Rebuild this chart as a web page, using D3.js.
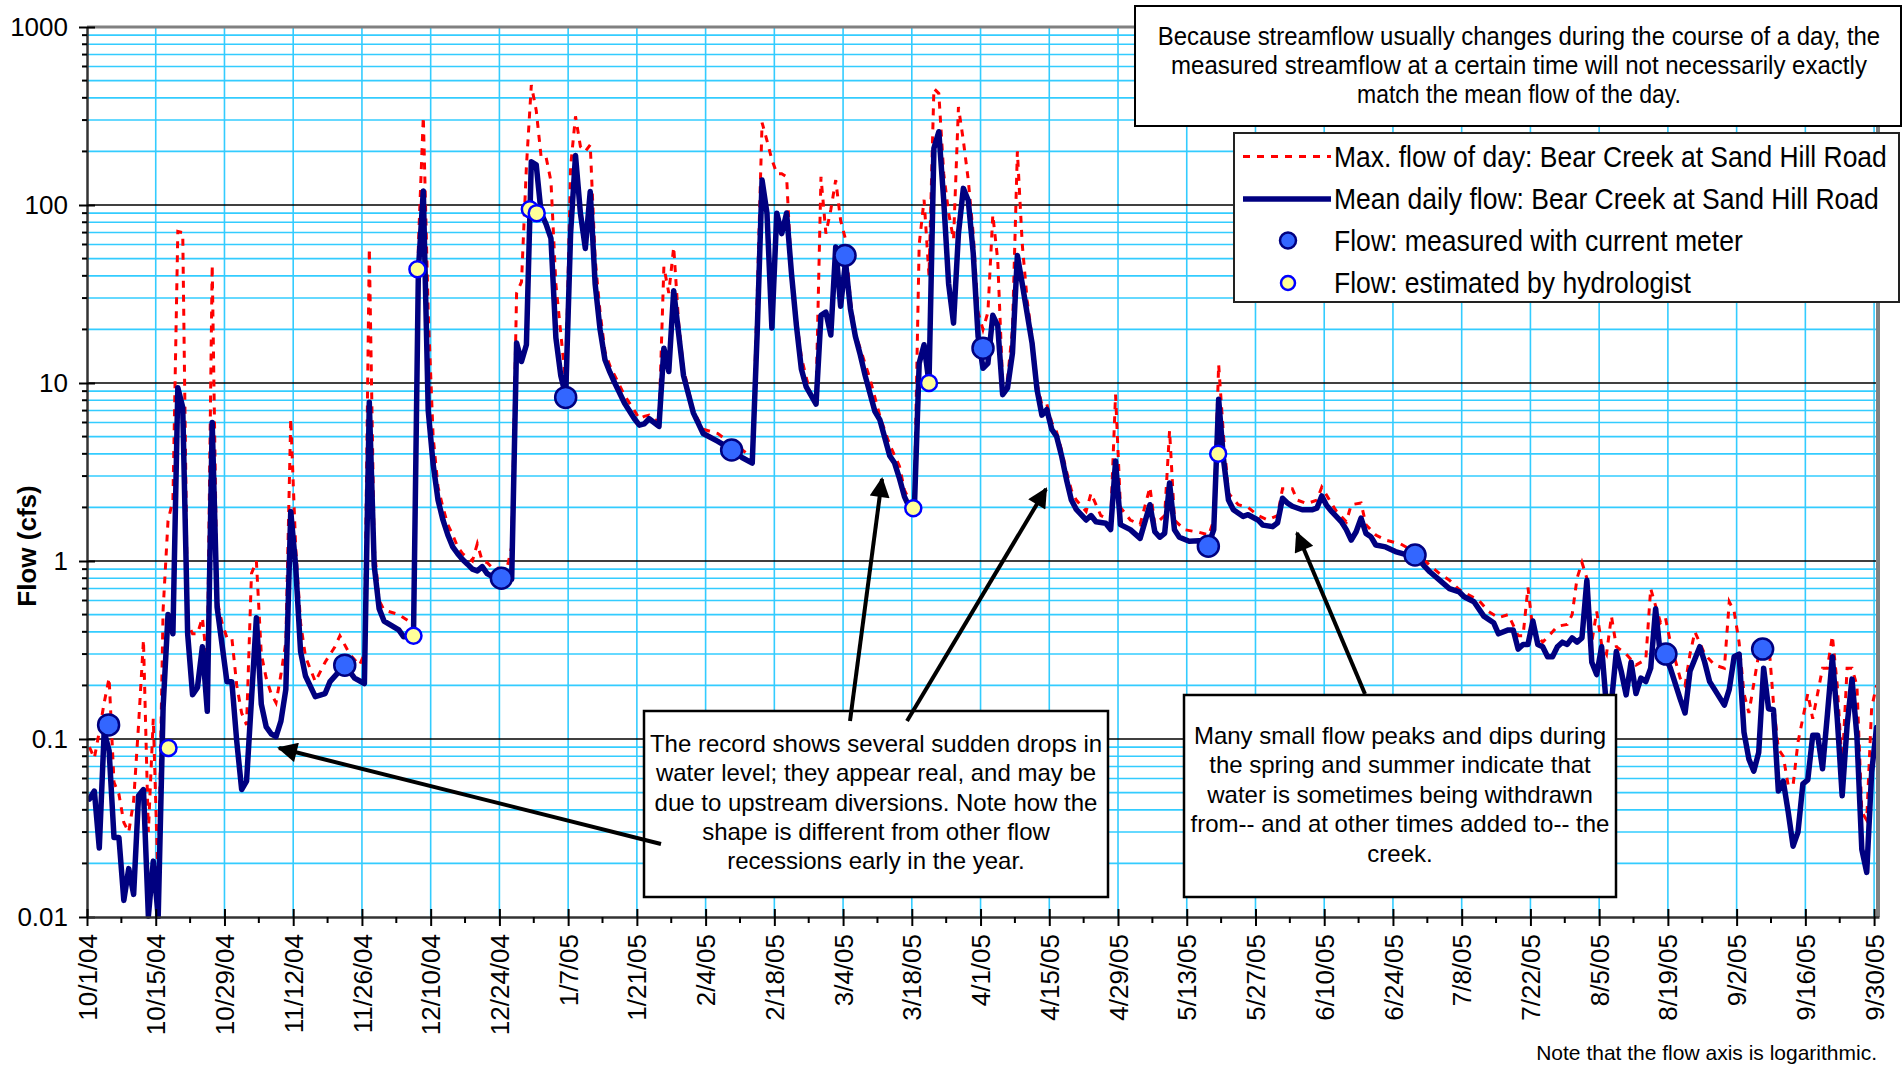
<!DOCTYPE html>
<html><head><meta charset="utf-8">
<script src="https://cdn.jsdelivr.net/npm/d3@7"></script>
<style>
html,body{margin:0;padding:0;background:#fff;}
svg{display:block;}
text{font-family:"Liberation Sans",Arial,Helvetica,sans-serif;fill:#000;}
</style></head><body>
<svg id="chart" width="1902" height="1066"></svg>
<script>
// ---------------- DATA ----------------
const startDateUTC = Date.UTC(2004, 9, 1);   // water year starts 10/1/04
const endDateUTC = Date.UTC(2005, 9, 1);
const tickLabels = ["10/1/04","10/15/04","10/29/04","11/12/04","11/26/04","12/10/04","12/24/04","1/7/05","1/21/05","2/4/05","2/18/05","3/4/05","3/18/05","4/1/05","4/15/05","4/29/05","5/13/05","5/27/05","6/10/05","6/24/05","7/8/05","7/22/05","8/5/05","8/19/05","9/2/05","9/16/05","9/30/05"];
const yTickValues = [0.01, 0.1, 1, 10, 100, 1000];
const yTickLabels = ["0.01", "0.1", "1", "10", "100", "1000"];

// [day since 10/1/04, mean daily flow (cfs)]
const meanDaily = [[0,0.046],[1,0.051],[2,0.0244],[3,0.11],[4,0.086],[5,0.028],[6,0.028],[7,0.0124],[8,0.0187],[9,0.0134],[10,0.048],[11,0.052],[12,0.0101],[13,0.0206],[14,0.0100],[15,0.15],[16,0.5],[17,0.39],[18,9.4],[19,7.3],[20,0.39],[21,0.177],[22,0.195],[23,0.33],[24,0.143],[25,6.0],[26,0.55],[27,0.34],[28,0.21],[29,0.21],[30,0.097],[31,0.052],[32,0.058],[34,0.48],[35,0.157],[36,0.117],[37,0.107],[38,0.103],[39,0.126],[40,0.19],[41,1.9],[42,0.94],[43,0.31],[44,0.226],[46,0.173],[48,0.18],[49,0.21],[52,0.26],[54,0.22],[56,0.205],[57,7.8],[58,0.94],[59,0.54],[60,0.46],[63,0.41],[64,0.375],[66,0.38],[67,43],[68,120],[69,7],[70,3.5],[71,2.2],[72,1.7],[73,1.4],[74,1.2],[75,1.1],[76,1.02],[77,0.96],[78,0.9],[79,0.88],[80,0.93],[81,0.85],[82,0.82],[84,0.78],[86,0.79],[87,16.8],[88,13.2],[89,16.4],[90,175],[91,168],[92,90],[93,78],[94,65],[95,18],[96,11],[97,8.5],[98,69],[99,190],[100,90],[101,57],[102,119],[103,36],[104,20],[105,13.5],[106,11.5],[107,10],[109,7.7],[111,6.3],[112,5.8],[113,5.9],[114,6.3],[116,5.7],[117,15.7],[118,11.6],[119,33],[120,19],[121,11],[123,6.8],[125,5.2],[128,4.7],[131,4.2],[133,3.8],[135,3.55],[136,19],[137,138],[138,90],[139,20.4],[140,90],[141,69],[142,90],[143,41],[144,21],[145,12],[146,9.5],[148,7.6],[149,24],[150,25],[151,18.6],[152,58],[153,27],[154,48],[155,26],[156,18.3],[157,14.4],[158,11],[160,6.9],[161,6.2],[163,3.9],[164,3.55],[165,2.9],[166,2.3],[167,2.0],[168,1.9],[169,12.9],[170,16.4],[171,10],[172,208],[173,258],[174,106],[175,36],[176,21.7],[177,69],[178,124],[179,106],[180,54],[181,18.3],[182,12.1],[183,12.9],[184,24],[185,21],[186,8.6],[187,9.4],[188,14.7],[189,52],[190,36],[191,24.5],[192,16.7],[193,9.2],[194,6.6],[195,7.1],[196,5.5],[197,5.0],[198,3.9],[199,2.87],[200,2.2],[201,1.95],[203,1.7],[204,1.8],[205,1.66],[207,1.63],[208,1.5],[209,3.65],[210,1.6],[212,1.5],[214,1.34],[216,2.07],[217,1.46],[218,1.36],[219,1.43],[220,2.74],[221,1.5],[222,1.36],[224,1.29],[226,1.30],[228,1.25],[229,1.5],[230,8.1],[231,3.7],[232,2.2],[233,1.94],[235,1.78],[236,1.82],[238,1.7],[239,1.59],[241,1.56],[242,1.64],[243,2.25],[244,2.12],[245,2.03],[247,1.94],[249,1.94],[250,1.98],[251,2.32],[252,2.05],[253,1.9],[255,1.66],[256,1.5],[257,1.31],[258,1.46],[259,1.74],[260,1.43],[261,1.37],[262,1.23],[264,1.2],[266,1.13],[268,1.09],[270,1.08],[272,0.93],[273,0.87],[275,0.78],[277,0.7],[279,0.67],[280,0.63],[282,0.59],[284,0.49],[286,0.45],[287,0.39],[289,0.41],[290,0.41],[291,0.32],[292,0.34],[293,0.34],[294,0.46],[295,0.34],[296,0.33],[297,0.29],[298,0.29],[299,0.33],[300,0.35],[301,0.34],[302,0.37],[303,0.35],[304,0.37],[305,0.78],[306,0.27],[307,0.23],[308,0.33],[309,0.15],[310,0.16],[311,0.31],[312,0.24],[313,0.177],[314,0.27],[315,0.18],[316,0.22],[317,0.21],[318,0.25],[319,0.54],[320,0.29],[321,0.29],[322,0.25],[324,0.168],[325,0.14],[326,0.24],[328,0.33],[329,0.27],[330,0.21],[331,0.19],[333,0.155],[334,0.19],[335,0.29],[336,0.30],[337,0.109],[338,0.077],[339,0.066],[340,0.084],[341,0.25],[342,0.148],[343,0.146],[344,0.051],[345,0.058],[346,0.039],[347,0.025],[348,0.030],[349,0.056],[350,0.059],[351,0.105],[352,0.105],[353,0.068],[354,0.138],[355,0.29],[356,0.13],[357,0.048],[358,0.119],[359,0.217],[360,0.104],[361,0.024],[362,0.0178],[363,0.065],[364,0.116]];

// [day since 10/1/04, maximum flow of day (cfs)]
const maxDaily = [[0,0.09],[1,0.078],[2,0.11],[3,0.16],[4,0.22],[5,0.057],[6,0.049],[7,0.034],[8,0.03],[9,0.045],[10,0.12],[11,0.36],[12,0.03],[13,0.13],[14,0.015],[15,0.53],[16,1.68],[17,2.2],[18,71],[19,70],[20,0.45],[21,0.39],[22,0.39],[23,0.48],[24,0.26],[25,46],[26,0.6],[27,0.45],[28,0.37],[29,0.37],[30,0.2],[31,0.14],[32,0.12],[33,0.85],[34,1.0],[35,0.3],[36,0.22],[37,0.18],[38,0.16],[39,0.23],[40,0.35],[41,6.3],[42,1.2],[43,0.45],[44,0.29],[46,0.21],[48,0.27],[50,0.33],[51,0.38],[53,0.3],[55,0.26],[56,0.3],[57,57],[58,1.2],[59,0.6],[60,0.53],[63,0.5],[65,0.46],[66,0.5],[67,60],[68,313],[69,25],[70,5],[71,2.6],[72,2.0],[73,1.6],[74,1.4],[75,1.2],[76,1.1],[78,1.0],[79,1.25],[80,1.0],[81,0.98],[82,0.92],[85,0.9],[86,1.2],[87,32],[88,37],[89,164],[90,472],[91,340],[92,186],[93,186],[94,136],[95,36],[96,19],[97,10],[98,164],[99,315],[100,213],[101,200],[102,218],[103,50],[104,25],[105,15],[106,12.5],[107,11],[109,8.5],[111,7],[112,6.3],[113,6.5],[114,6.6],[116,6],[117,45],[118,32],[119,58],[120,22],[121,12],[123,7],[125,5.5],[128,5.2],[131,4.5],[133,4.2],[135,3.8],[136,30],[137,290],[138,230],[139,180],[140,150],[141,150],[142,144],[143,40],[144,23],[145,14],[146,10.7],[147,8.5],[148,8.5],[149,144],[150,69],[151,94],[152,138],[153,82],[154,64],[155,29],[156,19],[159,10.5],[161,6.5],[163,4.5],[165,3.4],[166,2.5],[167,2.2],[168,2.1],[169,60],[170,107],[171,40],[172,451],[173,423],[174,150],[175,90],[176,64],[177,355],[178,230],[179,138],[180,69],[181,25],[182,20],[183,25],[184,88],[185,49],[186,10],[187,10.5],[188,20],[189,200],[190,60],[191,29],[192,18],[193,10],[194,7.5],[195,7.6],[196,6],[197,5.3],[198,4.2],[199,3.2],[200,2.5],[201,2.2],[203,1.9],[204,2.4],[206,1.8],[208,1.7],[209,8.6],[210,2.0],[212,1.7],[214,1.6],[216,2.6],[217,1.6],[219,1.8],[220,5.4],[221,1.7],[223,1.5],[226,1.45],[228,1.4],[229,1.7],[230,12.7],[231,5],[232,2.4],[234,2.07],[236,2.0],[238,1.8],[240,1.7],[242,1.8],[243,2.55],[245,2.55],[246,2.2],[248,2.1],[250,2.2],[251,2.6],[253,2.1],[254,1.9],[256,1.66],[257,2.07],[259,2.12],[260,1.6],[262,1.4],[264,1.31],[267,1.25],[270,1.12],[272,1.0],[275,0.85],[277,0.78],[279,0.69],[283,0.6],[285,0.52],[287,0.48],[289,0.5],[291,0.38],[292,0.38],[293,0.71],[294,0.41],[296,0.35],[298,0.4],[299,0.43],[301,0.44],[302,0.5],[303,0.8],[304,0.98],[305,0.8],[306,0.35],[307,0.52],[308,0.34],[309,0.3],[310,0.49],[311,0.33],[313,0.3],[315,0.26],[317,0.28],[318,0.7],[319,0.56],[320,0.45],[321,0.48],[322,0.35],[324,0.22],[325,0.2],[326,0.3],[327,0.4],[329,0.3],[331,0.26],[333,0.25],[334,0.59],[335,0.52],[336,0.35],[337,0.18],[338,0.14],[340,0.3],[341,0.3],[342,0.36],[343,0.16],[344,0.088],[345,0.08],[346,0.055],[347,0.055],[348,0.096],[350,0.18],[351,0.13],[353,0.25],[354,0.25],[355,0.38],[356,0.2],[357,0.07],[358,0.25],[359,0.25],[360,0.2],[361,0.039],[362,0.035],[363,0.15],[364,0.2]];

// current-meter measurements [day, flow]
const measured = [[3.9,0.12],[52,0.26],[83.9,0.8],[97,8.3],[130.8,4.2],[153.9,52],[182,15.7],[227.9,1.21],[270,1.08],[321.1,0.30],[340.8,0.32]];
// hydrologist estimates [day, flow]
const estimated = [[16.1,0.089],[66,0.38],[66.8,43.6],[89.7,94.6],[91.1,90],[167.8,1.98],[171,10],[229.9,4.0]];

const yAxisTitle = "Flow (cfs)";
const legendLabels = ["Max. flow of day: Bear Creek at Sand Hill Road","Mean daily flow: Bear Creek at Sand Hill Road","Flow: measured with current meter","Flow: estimated by hydrologist"];
const noteLines = ["Because streamflow usually changes during the course of a day, the","measured streamflow at a certain time will not necessarily exactly","match the mean flow of the day."];
const leftBoxLines = ["The record shows several sudden drops in","water level; they appear real, and may be","due to upstream diversions. Note how the","shape is different from other flow","recessions early in the year."];
const rightBoxLines = ["Many small flow peaks and dips during","the spring and summer indicate that","water is sometimes being withdrawn","from-- and at other times added to-- the","creek."];
const bottomNote = "Note that the flow axis is logarithmic.";

// ---------------- LAYOUT ----------------
const svg = d3.select("#chart");
const P = {left: 87, right: 1879, top: 27, bottom: 917};
const DAY = 864e5;
const x = d3.scaleUtc().domain([new Date(startDateUTC), new Date(endDateUTC)]).range([P.left, P.right]);
const y = d3.scaleLog().domain([0.01, 1000]).range([P.bottom, P.top]);
const dx = d => x(new Date(startDateUTC + (d + 0.5) * DAY));
const majorDates = tickLabels.map((t, i) => new Date(startDateUTC + 14 * i * DAY));
const minorDates = d3.range(tickLabels.length - 1).map(i => new Date(startDateUTC + (14 * i + 7) * DAY));
const minorY = [];
for (let e = -2; e <= 2; e++) for (let k = 2; k <= 9; k++) minorY.push(k * Math.pow(10, e));

const GRID = "#33ccff";
const grid = svg.append("g");
grid.selectAll(".hminor").data(minorY).join("line")
  .attr("x1", P.left).attr("x2", P.right - 1).attr("y1", d => y(d)).attr("y2", d => y(d))
  .attr("stroke", GRID).attr("stroke-width", 1.6);
grid.selectAll(".vmajor").data(majorDates.slice(1)).join("line")
  .attr("x1", d => x(d)).attr("x2", d => x(d)).attr("y1", P.top).attr("y2", P.bottom)
  .attr("stroke", GRID).attr("stroke-width", 1.6);
grid.selectAll(".hmajor").data([0.1, 1, 10, 100]).join("line")
  .attr("x1", P.left).attr("x2", P.right - 1).attr("y1", d => y(d)).attr("y2", d => y(d))
  .attr("stroke", "#000").attr("stroke-width", 1.3);

// clip
svg.append("clipPath").attr("id", "clip").append("rect")
  .attr("x", P.left).attr("y", P.top - 2).attr("width", P.right - P.left).attr("height", P.bottom - P.top + 4);

const line = d3.line().x(d => dx(d[0])).y(d => y(d[1]));
const dataG = svg.append("g").attr("clip-path", "url(#clip)");
dataG.append("path").datum(maxDaily).attr("d", line)
  .attr("fill", "none").attr("stroke", "#ff0000").attr("stroke-width", 3).attr("stroke-dasharray", "7,7");
dataG.append("path").datum(meanDaily).attr("d", line)
  .attr("fill", "none").attr("stroke", "#000080").attr("stroke-width", 5.5)
  .attr("stroke-linejoin", "round").attr("stroke-linecap", "round");
dataG.selectAll(".meas").data(measured).join("circle")
  .attr("cx", d => dx(d[0])).attr("cy", d => y(d[1])).attr("r", 10.5)
  .attr("fill", "#3366ff").attr("stroke", "#000080").attr("stroke-width", 2.5);
dataG.selectAll(".est").data(estimated).join("circle")
  .attr("cx", d => dx(d[0])).attr("cy", d => y(d[1])).attr("r", 8)
  .attr("fill", "#ffff99").attr("stroke", "#0000ff").attr("stroke-width", 2.5);

// frame (top and right in gray)
svg.append("line").attr("x1", P.left).attr("x2", P.right).attr("y1", P.top).attr("y2", P.top)
  .attr("stroke", "#808080").attr("stroke-width", 3);
svg.append("line").attr("x1", P.right - 1).attr("x2", P.right - 1).attr("y1", P.top).attr("y2", P.bottom)
  .attr("stroke", "#808080").attr("stroke-width", 4);

// y axis
const yAxisG = svg.append("g").attr("transform", `translate(${P.left},0)`)
  .call(d3.axisLeft(y).tickValues(yTickValues).tickFormat((d, i) => yTickLabels[i]).tickSizeInner(8).tickSizeOuter(0).tickPadding(11));
yAxisG.select(".domain").attr("stroke", "#333").attr("stroke-width", 2.5);
yAxisG.selectAll(".tick line").attr("stroke", "#000").attr("stroke-width", 2).attr("x2", -8).attr("x1", 8);
yAxisG.selectAll(".tick text").attr("font-size", 26).attr("font-family", "Liberation Sans, Arial, sans-serif").attr("fill", "#000");
yAxisG.selectAll(".yminor").data(minorY).join("line").attr("class", "yminor")
  .attr("x1", -5).attr("x2", 0).attr("y1", d => y(d)).attr("y2", d => y(d)).attr("stroke", "#000").attr("stroke-width", 2);

// x axis
const xAxisG = svg.append("g").attr("transform", `translate(0,${P.bottom})`)
  .call(d3.axisBottom(x).tickValues(majorDates).tickFormat((d, i) => tickLabels[i]).tickSizeInner(9).tickSizeOuter(0));
xAxisG.select(".domain").attr("stroke", "#333").attr("stroke-width", 2.5);
xAxisG.selectAll(".tick line").attr("stroke", "#000").attr("stroke-width", 2).attr("y1", -8).attr("y2", 9);
xAxisG.selectAll(".tick text").attr("font-size", 26).attr("font-family", "Liberation Sans, Arial, sans-serif").attr("fill", "#000")
  .attr("transform", "rotate(-90)").attr("x", -17).attr("y", 0).attr("dy", "0.35em").style("text-anchor", "end");
xAxisG.selectAll(".xminor").data(minorDates).join("line").attr("class", "xminor")
  .attr("x1", d => x(d)).attr("x2", d => x(d)).attr("y1", 0).attr("y2", 6).attr("stroke", "#000").attr("stroke-width", 2);

// axis title
svg.append("text").attr("transform", "translate(27,546) rotate(-90)")
  .attr("text-anchor", "middle").attr("dy", "0.35em").attr("font-size", 26).attr("font-weight", "bold").text(yAxisTitle);

// helper: condensed text (Arial Narrow look) by horizontal scaling of Liberation Sans
function narrowText(tx, ty, str, size, width, anchor) {
  const g = svg.append("g");
  const t = g.append("text").attr("x", 0).attr("y", 0).attr("dy", "0.35em")
    .attr("font-size", size).attr("text-anchor", anchor).text(str);
  const L = t.node().getComputedTextLength();
  const k = width / L;
  g.attr("transform", `translate(${tx},${ty}) scale(${k.toFixed(4)},1)`);
  return g;
}

// note box (top)
svg.append("rect").attr("x", 1135).attr("y", 6).attr("width", 766).attr("height", 120)
  .attr("fill", "#fff").attr("stroke", "#000").attr("stroke-width", 2);
const noteW = [723, 696, 324];
noteLines.forEach((t, i) => narrowText(1519, 36 + i * 29.3, t, 25, noteW[i], "middle"));

// annotation boxes
function box(x0, y0, w, h, lines, baseY, step) {
  svg.append("rect").attr("x", x0).attr("y", y0).attr("width", w).attr("height", h)
    .attr("fill", "#fff").attr("stroke", "#000").attr("stroke-width", 2.5);
  lines.forEach((t, i) => svg.append("text").attr("x", x0 + w / 2).attr("y", baseY + i * step)
    .attr("text-anchor", "middle").attr("font-size", 24).text(t));
}
box(644, 711, 464, 186, leftBoxLines, 752, 29.3);
box(1184, 695, 432, 202, rightBoxLines, 743.5, 29.6);

// arrows
const defs = svg.append("defs");
defs.append("marker").attr("id", "ah").attr("viewBox", "0 0 10 10").attr("refX", 9).attr("refY", 5)
  .attr("markerWidth", 6).attr("markerHeight", 5).attr("orient", "auto").attr("markerUnits", "strokeWidth")
  .append("path").attr("d", "M0,0 L10,5 L0,10 Z").attr("fill", "#000");
const arrows = [[661, 844, 279, 748], [850, 721, 882, 479], [907, 721, 1046, 489], [1365, 694, 1297, 533]];
svg.selectAll(".arrow").data(arrows).join("line")
  .attr("x1", d => d[0]).attr("y1", d => d[1]).attr("x2", d => d[2]).attr("y2", d => d[3])
  .attr("stroke", "#000").attr("stroke-width", 4).attr("marker-end", "url(#ah)");

// legend
svg.append("rect").attr("x", 1234).attr("y", 133).attr("width", 665).attr("height", 169)
  .attr("fill", "#fff").attr("stroke", "#222").attr("stroke-width", 2);
const rowY = [156.5, 199, 240.5, 283];
svg.append("line").attr("x1", 1243).attr("x2", 1331).attr("y1", rowY[0]).attr("y2", rowY[0])
  .attr("stroke", "#ff0000").attr("stroke-width", 3).attr("stroke-dasharray", "7,7");
svg.append("line").attr("x1", 1243).attr("x2", 1331).attr("y1", rowY[1]).attr("y2", rowY[1])
  .attr("stroke", "#000080").attr("stroke-width", 5.5);
svg.append("circle").attr("cx", 1288).attr("cy", rowY[2]).attr("r", 8)
  .attr("fill", "#3366ff").attr("stroke", "#000080").attr("stroke-width", 2.5);
svg.append("circle").attr("cx", 1288).attr("cy", rowY[3]).attr("r", 7)
  .attr("fill", "#ffff99").attr("stroke", "#0000ff").attr("stroke-width", 2.5);
const legW = [553, 545, 409, 357];
legendLabels.forEach((t, i) => narrowText(1334, rowY[i], t, 29, legW[i], "start"));

// bottom note
svg.append("text").attr("x", 1877).attr("y", 1060).attr("text-anchor", "end").attr("font-size", 21).text(bottomNote);
</script>
</body></html>
